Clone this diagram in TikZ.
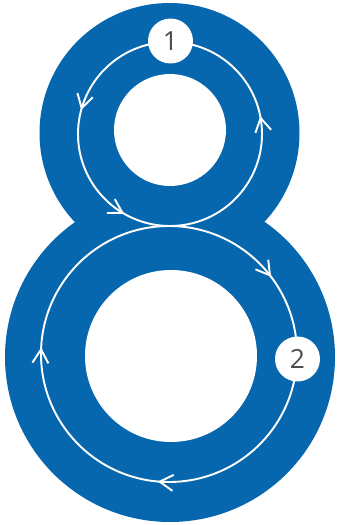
\documentclass[tikz,border=0pt]{standalone}
\usepackage{fontspec}
\setsansfont{Open Sans}
\usepackage{tikz}
\usetikzlibrary{arrows.meta, decorations.markings}
\usepackage{xcolor}
\definecolor{eightblue}{HTML}{0667AF}
\definecolor{numgray}{HTML}{4D4D4D}

\begin{document}
\begin{tikzpicture}[
    x=0.02cm, y=0.02cm,
    ring/.style={fill=eightblue, draw=none},
    hole/.style={fill=white, draw=none},
    loopline/.style={draw=white, line width=1.1pt},
    barb/.tip={Straight Barb[length=2.7mm, width=3.2mm]},
    badge/.style={circle, fill=white, draw=none, minimum size=0.9cm, inner sep=0pt, font=\fontsize{15}{15}\selectfont\sffamily, text=numgray}
]
\useasboundingbox (0,0) rectangle (337,525);

% centres
\coordinate (topc) at (169.5,392);
\coordinate (botc) at (170,168);
\coordinate (tophole) at (170,395);
\coordinate (bothole) at (171,169);
\coordinate (toploop) at (170,391);
\coordinate (botloop) at (169,171);

% the eight
\fill[ring] (topc) circle (130);
\fill[ring] (botc) circle (165);
\fill[hole] (tophole) circle (56);
\fill[hole] (bothole) circle (86);

% upper loop, anticlockwise
\draw[loopline, postaction={decorate}, decoration={markings,
    mark=at position 0.208 with {\arrow{barb}},
    mark=at position 0.417 with {\arrow{barb}},
    mark=at position 0.781 with {\arrow{barb}}}]
    (toploop) ++(90:92) arc[start angle=90, end angle=450, radius=92];

% lower loop, clockwise
\draw[loopline, postaction={decorate}, decoration={markings,
    mark=at position 0.147 with {\arrow{barb}},
    mark=at position 0.514 with {\arrow{barb}},
    mark=at position 0.758 with {\arrow{barb}}}]
    (botloop) ++(90:128) arc[start angle=90, end angle=-270, radius=128];

% numbers
\node[badge] (one) at (170.5,484) {1};
\node[badge] (two) at (297.5,166) {2};

\end{tikzpicture}
\end{document}
